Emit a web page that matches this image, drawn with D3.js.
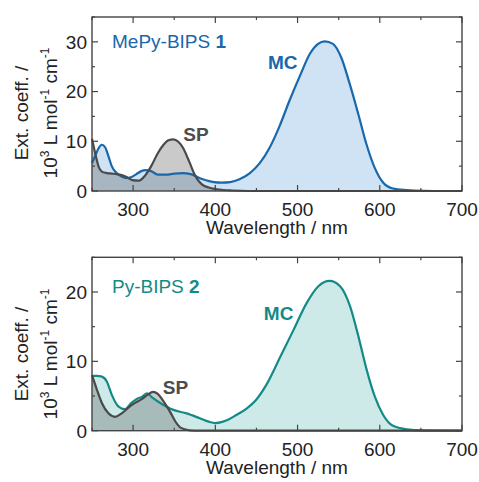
<!DOCTYPE html>
<html>
<head>
<meta charset="utf-8">
<script src="https://cdn.jsdelivr.net/npm/d3@7"></script>
<style>
  body { margin: 0; background: #fff; }
  svg text { font-family: "Liberation Sans", Arial, sans-serif; }
</style>
</head>
<body>
<div id="chart"></div>
<script>
// MePy-BIPS 1 : merocyanine (MC) and spiropyran (SP) spectra
var mc1Wl  = [250,255,258,262,266,270,274,280,286,292,298,304,310,315,322,330,340,350,360,370,376,382,390,398,408,418,430,442,454,466,478,490,503,515,525,533,543,553,563,574,584,594,604,616,633,653,680,700];
var mc1Eps = [5.6,7.5,8.6,9.3,8.8,7.0,5.0,3.6,2.9,2.6,2.8,3.4,4.0,4.2,4.0,3.3,3.3,3.5,3.6,3.4,3.0,2.5,2.1,1.8,1.7,1.8,2.4,3.6,5.6,8.7,13.0,18.1,23.2,27.6,29.6,30.1,29.6,26.9,21.8,15.4,9.3,4.6,1.7,0.5,0.2,0.05,0,0];
var sp1Wl  = [250,254,258,262,268,274,280,286,292,299,307,315,322,330,337,343,349,355,361,366,370,374,378,384,392,400,410,420,440,700];
var sp1Eps = [10.5,7.5,4.9,3.9,3.6,3.5,3.4,3.2,2.8,2.2,2.1,3.2,5.0,7.6,9.3,10.2,10.4,9.9,8.6,6.8,5.2,3.6,2.4,1.3,0.7,0.4,0.2,0.1,0,0];

// Py-BIPS 2
var mc2Wl  = [250,256,262,268,274,282,290,298,305,311,317,323,333,349,365,381,392,400,414,426,438,450,462,478,495,511,525,539,552,564,574,584,594,604,616,633,653,700];
var mc2Eps = [7.9,7.9,7.8,7.1,5.2,3.5,3.1,4.0,4.6,4.9,5.4,4.8,4.0,3.0,2.5,1.8,1.3,1.1,1.5,2.3,3.2,4.5,6.6,10.4,14.5,18.4,20.8,21.6,20.8,17.9,13.6,8.8,4.9,2.3,0.7,0.2,0.05,0];
var sp2Wl  = [250,256,262,270,278,286,298,311,318,324,330,336,341,346,351,357,363,369,380,700];
var sp2Eps = [8.0,5.9,4.0,2.5,2.0,2.5,3.7,4.6,5.2,5.6,5.3,4.4,3.5,2.5,1.4,0.5,0.2,0.05,0,0];

var xTicks = [300,400,500,600,700];
var yTicks1 = [0,10,20,30];
var yTicks2 = [0,10,20];

var svg = d3.select("#chart").append("svg")
  .attr("width", 479).attr("height", 482);

var x = d3.scaleLinear().domain([250, 700]).range([92, 462]);

function zip(wl, eps){
  return wl.map(function(w, i){ return [w, eps[i]]; });
}

function drawPanel(opt){
  var y = d3.scaleLinear().domain([0, opt.yMax]).range([opt.bottom, opt.top]);
  var g = svg.append("g");

  var area = d3.area().curve(d3.curveMonotoneX)
    .x(function(d){ return x(d[0]); })
    .y0(y(0))
    .y1(function(d){ return y(d[1]); });
  var line = d3.line().curve(d3.curveMonotoneX)
    .x(function(d){ return x(d[0]); })
    .y(function(d){ return y(d[1]); });

  var mc = zip(opt.mcWl, opt.mcEps);
  var sp = zip(opt.spWl, opt.spEps);

  g.append("path").attr("d", area(mc)).attr("fill", opt.fill);
  g.append("path").attr("d", area(sp)).attr("fill", "#505050").attr("fill-opacity", 0.3);
  g.append("path").attr("d", line(mc)).attr("fill", "none")
    .attr("stroke", opt.color).attr("stroke-width", 2.2);
  g.append("path").attr("d", line(sp)).attr("fill", "none")
    .attr("stroke", "#4a4a4a").attr("stroke-width", 2.2);

  // ticks, inward on all four sides
  var tk = g.append("g").attr("stroke", "#444").attr("stroke-width", 1.2);
  d3.range(250, 701, 50).forEach(function(v){
    var len = v % 100 === 0 ? 6 : 3;
    tk.append("line").attr("x1", x(v)).attr("x2", x(v))
      .attr("y1", opt.bottom).attr("y2", opt.bottom - len);
    tk.append("line").attr("x1", x(v)).attr("x2", x(v))
      .attr("y1", opt.top).attr("y2", opt.top + len);
  });
  d3.range(0, opt.yMax + 0.1, 5).forEach(function(v){
    var len = v % 10 === 0 ? 6 : 3;
    tk.append("line").attr("y1", y(v)).attr("y2", y(v))
      .attr("x1", 92).attr("x2", 92 + len);
    tk.append("line").attr("y1", y(v)).attr("y2", y(v))
      .attr("x1", 462).attr("x2", 462 - len);
  });

  g.append("rect").attr("x", 92).attr("y", opt.top)
    .attr("width", 370).attr("height", opt.bottom - opt.top)
    .attr("fill", "none").attr("stroke", "#444").attr("stroke-width", 1.4);

  // tick labels
  g.selectAll(".xl").data(xTicks).enter().append("text")
    .attr("x", function(d){ return x(d); })
    .attr("y", opt.bottom + 25)
    .attr("text-anchor", "middle")
    .attr("font-size", 19).attr("fill", "#222")
    .text(function(d){ return d; });
  g.selectAll(".yl").data(opt.yTicks).enter().append("text")
    .attr("x", 87)
    .attr("y", function(d){ return y(d); })
    .attr("dy", "0.36em")
    .attr("text-anchor", "end")
    .attr("font-size", 19).attr("fill", "#222")
    .text(function(d){ return d; });

  g.append("text").attr("x", 277).attr("y", opt.bottom + 43)
    .attr("text-anchor", "middle").attr("font-size", 19).attr("fill", "#222")
    .text("Wavelength / nm");

  // y title, two lines
  var cy = opt.labelY;
  g.append("text").attr("transform", "translate(28," + cy + ") rotate(-90)")
    .attr("text-anchor", "middle").attr("font-size", 19).attr("fill", "#222")
    .text("Ext. coeff. /");
  var t2 = g.append("text").attr("transform", "translate(57," + cy + ") rotate(-90)")
    .attr("text-anchor", "middle").attr("font-size", 19).attr("fill", "#222");
  t2.append("tspan").text("10");
  t2.append("tspan").attr("font-size", 12).attr("dy", -8).text("3");
  t2.append("tspan").attr("dy", 8).text(" L mol");
  t2.append("tspan").attr("font-size", 12).attr("dy", -8).text("-1");
  t2.append("tspan").attr("dy", 8).text(" cm");
  t2.append("tspan").attr("font-size", 12).attr("dy", -8).text("-1");

  // annotations
  var nm = g.append("text").attr("x", 112).attr("y", opt.nameY)
    .attr("font-size", 19).attr("fill", opt.color);
  nm.append("tspan").text(opt.name + " ");
  nm.append("tspan").attr("font-weight", "bold").text(opt.num);

  g.append("text").attr("x", x(opt.spAt[0])).attr("y", y(opt.spAt[1]))
    .attr("font-size", 19).attr("font-weight", "bold").attr("fill", "#4d4d4d")
    .text("SP");
  g.append("text").attr("x", x(opt.mcAt[0])).attr("y", y(opt.mcAt[1]))
    .attr("font-size", 19).attr("font-weight", "bold").attr("fill", opt.color)
    .text("MC");
}

drawPanel({
  top: 17, bottom: 191, yMax: 35, yTicks: yTicks1,
  mcWl: mc1Wl, mcEps: mc1Eps, spWl: sp1Wl, spEps: sp1Eps,
  color: "#1868ab", fill: "#cfe3f4",
  name: "MePy-BIPS", num: "1", nameY: 48, labelY: 113,
  spAt: [361, 10.0], mcAt: [464, 24.5]
});

drawPanel({
  top: 257.3, bottom: 430.7, yMax: 25, yTicks: yTicks2,
  mcWl: mc2Wl, mcEps: mc2Eps, spWl: sp2Wl, spEps: sp2Eps,
  color: "#148a86", fill: "#cdeae9",
  name: "Py-BIPS", num: "2", nameY: 293, labelY: 354,
  spAt: [336, 5.3], mcAt: [459, 16.0]
});
</script>
</body>
</html>
